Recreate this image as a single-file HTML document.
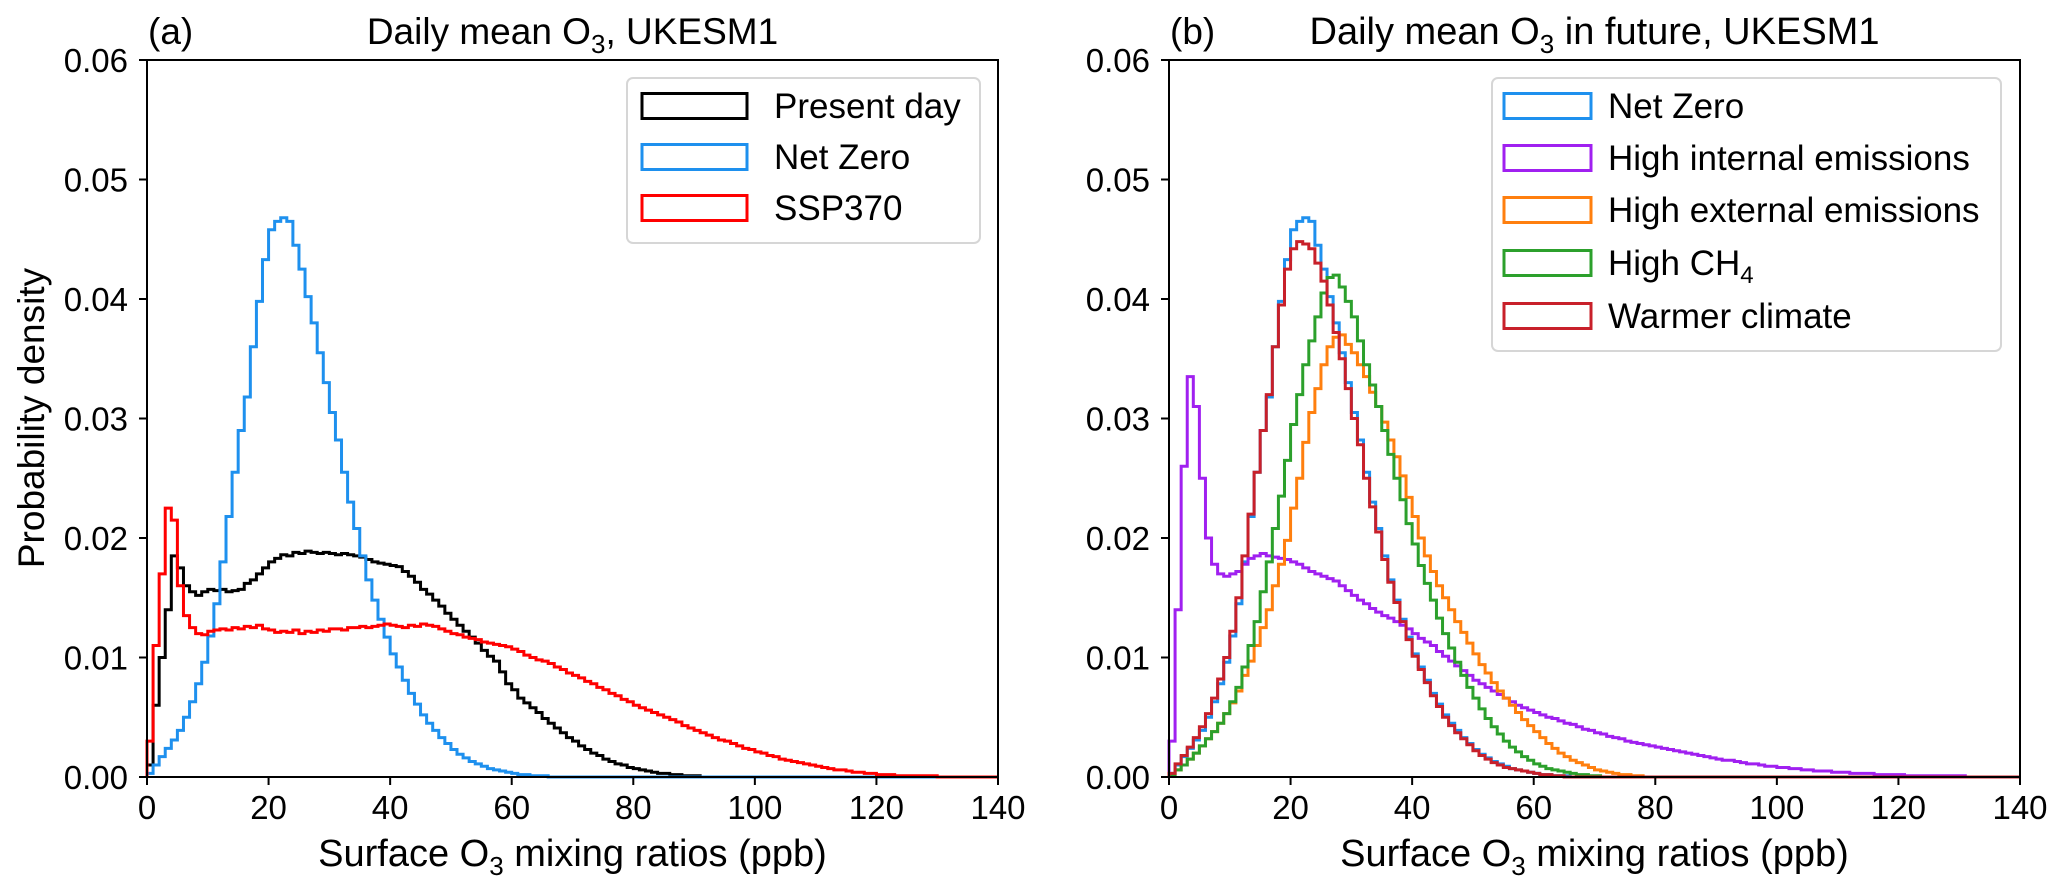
<!DOCTYPE html>
<html><head><meta charset="utf-8">
<style>
html,body{margin:0;padding:0;background:#fff;}
svg{display:block;font-family:"Liberation Sans",Arial,sans-serif;}
</style></head>
<body>
<svg id="fig" width="2067" height="891" viewBox="0 0 2067 891" xmlns="http://www.w3.org/2000/svg">
</svg>
<script>
// ---- data (1 ppb bins starting at 0) ----
const xTicks = [0,20,40,60,80,100,120,140];
const yTicks = [0.00,0.01,0.02,0.03,0.04,0.05,0.06];
const yTickLabels = ["0.00","0.01","0.02","0.03","0.04","0.05","0.06"];
const presentDay = [0.001,0.006,0.01,0.014,0.0185,0.0175,0.016,0.0155,0.0152,0.0155,0.0157,0.0156,0.0157,0.0155,0.0156,0.0157,0.0162,0.0165,0.017,0.0175,0.018,0.0183,0.0186,0.0185,0.0188,0.0187,0.0189,0.0188,0.0187,0.0188,0.0187,0.0186,0.0187,0.0186,0.0185,0.0184,0.0182,0.018,0.0179,0.0178,0.0177,0.0176,0.0172,0.0168,0.0163,0.0157,0.0153,0.0148,0.0143,0.0137,0.0132,0.0127,0.0122,0.0117,0.0112,0.0106,0.0101,0.0097,0.0088,0.0078,0.0073,0.0066,0.0062,0.0058,0.0054,0.0049,0.0045,0.0041,0.0037,0.0033,0.003,0.0026,0.0023,0.002,0.0018,0.0015,0.0013,0.0011,0.001,0.0008,0.0007,0.0006,0.0005,0.0004,0.0003,0.0003,0.0002,0.0002,0.0001,0.0001,0.0001];
const netZero = [0.0003,0.001,0.0017,0.0024,0.0031,0.0039,0.005,0.0063,0.0078,0.0096,0.0118,0.0145,0.018,0.0218,0.0255,0.029,0.0318,0.036,0.0398,0.0433,0.0458,0.0465,0.0468,0.0465,0.0445,0.0425,0.0402,0.038,0.0355,0.033,0.0305,0.0282,0.0255,0.023,0.0208,0.0185,0.0165,0.0148,0.0132,0.0117,0.0103,0.0092,0.0081,0.007,0.0061,0.0052,0.0045,0.0039,0.0033,0.0028,0.0023,0.0019,0.0016,0.0013,0.0011,0.0009,0.0007,0.0006,0.0005,0.0004,0.0003,0.0002,0.0002,0.0001,0.0001,0.0001];
const ssp370 = [0.003,0.011,0.017,0.0225,0.0215,0.016,0.0135,0.0125,0.012,0.0119,0.0122,0.0123,0.0124,0.0123,0.0125,0.0124,0.0126,0.0125,0.0127,0.0124,0.0123,0.0121,0.0122,0.0121,0.0123,0.012,0.0122,0.0121,0.0123,0.0122,0.0124,0.0124,0.0123,0.0125,0.0125,0.0126,0.0125,0.0126,0.0127,0.0128,0.0127,0.0126,0.0125,0.0127,0.0126,0.0128,0.0127,0.0126,0.0124,0.0122,0.012,0.0119,0.0117,0.0116,0.0115,0.0113,0.0112,0.0111,0.011,0.0109,0.0107,0.0105,0.0102,0.01,0.0098,0.0097,0.0095,0.0092,0.009,0.0087,0.0085,0.0083,0.008,0.0078,0.0075,0.0073,0.007,0.0068,0.0065,0.0063,0.006,0.0058,0.0056,0.0054,0.0052,0.005,0.0048,0.0046,0.0043,0.0041,0.0039,0.0037,0.0035,0.0033,0.0031,0.003,0.0028,0.0026,0.0024,0.0023,0.0021,0.002,0.0018,0.0017,0.0015,0.0014,0.0013,0.0012,0.0011,0.001,0.0009,0.0008,0.0007,0.0006,0.0006,0.0005,0.0004,0.0004,0.0003,0.0003,0.0002,0.0002,0.0002,0.0001,0.0001,0.0001,0.0001,0.0001,0.0001,0.0001];
const highInternal = [0.003,0.014,0.026,0.0335,0.031,0.025,0.02,0.0178,0.017,0.0168,0.017,0.0172,0.0178,0.0183,0.0185,0.0187,0.0185,0.0184,0.0183,0.0182,0.018,0.0178,0.0175,0.0172,0.017,0.0168,0.0166,0.0164,0.016,0.0156,0.0152,0.0148,0.0145,0.0141,0.0138,0.0135,0.0133,0.013,0.0127,0.0124,0.012,0.0116,0.0113,0.011,0.0105,0.0101,0.0097,0.0093,0.0089,0.0085,0.0081,0.0078,0.0075,0.0072,0.0069,0.0066,0.0063,0.006,0.0058,0.0056,0.0054,0.0052,0.005,0.0049,0.0047,0.0045,0.0044,0.0042,0.004,0.0039,0.0037,0.0036,0.0034,0.0033,0.0032,0.003,0.0029,0.0028,0.0027,0.0026,0.0025,0.0024,0.0023,0.0022,0.0021,0.002,0.0019,0.0018,0.0017,0.0016,0.0015,0.0014,0.0014,0.0013,0.0012,0.0011,0.0011,0.001,0.0009,0.0009,0.0008,0.0008,0.0007,0.0007,0.0006,0.0006,0.0005,0.0005,0.0005,0.0004,0.0004,0.0004,0.0003,0.0003,0.0003,0.0003,0.0002,0.0002,0.0002,0.0002,0.0002,0.0001,0.0001,0.0001,0.0001,0.0001,0.0001,0.0001,0.0001,0.0001,0.0001];
const highExternal = [0.0002,0.0006,0.001,0.0015,0.002,0.0026,0.0032,0.0038,0.0045,0.0053,0.0062,0.0072,0.0085,0.0097,0.011,0.0125,0.014,0.016,0.0178,0.0198,0.0225,0.025,0.028,0.0305,0.0325,0.0345,0.036,0.0368,0.037,0.0362,0.0355,0.0345,0.0335,0.0322,0.031,0.0297,0.0282,0.0268,0.0252,0.0234,0.0218,0.02,0.0185,0.0172,0.016,0.015,0.014,0.013,0.0121,0.0112,0.0103,0.0094,0.0087,0.0079,0.0072,0.0066,0.006,0.0054,0.0048,0.0043,0.0038,0.0033,0.0028,0.0024,0.002,0.0017,0.0014,0.0012,0.001,0.0008,0.0006,0.0005,0.0004,0.0003,0.0002,0.0002,0.0001,0.0001];
const highCH4 = [0.0002,0.0006,0.001,0.0015,0.002,0.0026,0.0032,0.0038,0.0045,0.0053,0.0063,0.0075,0.0092,0.011,0.013,0.0155,0.018,0.0208,0.0235,0.0265,0.0295,0.032,0.0345,0.0365,0.0385,0.0405,0.0418,0.042,0.041,0.0398,0.0385,0.0365,0.0345,0.0328,0.031,0.029,0.027,0.025,0.0232,0.0212,0.0195,0.0177,0.0162,0.0148,0.0133,0.012,0.0108,0.0096,0.0085,0.0075,0.0066,0.0057,0.0049,0.0042,0.0036,0.003,0.0025,0.0021,0.0017,0.0014,0.0011,0.0009,0.0007,0.0006,0.0005,0.0004,0.0003,0.0002,0.0002,0.0001,0.0001];
const warmerClimate = [0.0003,0.0011,0.0018,0.0025,0.0033,0.0042,0.0053,0.0066,0.0082,0.01,0.0122,0.015,0.0185,0.022,0.0255,0.029,0.032,0.036,0.0395,0.0425,0.0442,0.0448,0.0446,0.0442,0.043,0.0415,0.0395,0.0372,0.035,0.0325,0.03,0.0278,0.025,0.0226,0.0205,0.0182,0.0163,0.0146,0.013,0.0115,0.0101,0.009,0.0079,0.0068,0.0059,0.005,0.0043,0.0037,0.0032,0.0027,0.0022,0.0018,0.0015,0.0012,0.001,0.0008,0.0007,0.0006,0.0005,0.0004,0.0003,0.0002,0.0002,0.0001,0.0001];
const binWidth = 1;

const NS = "http://www.w3.org/2000/svg";
const svg = document.getElementById('fig');
function mk(tag, attrs, parent){ const e=document.createElementNS(NS,tag); for(const k in attrs) e.setAttribute(k,attrs[k]); (parent||svg).appendChild(e); return e; }

const Y0 = 777, Y1 = 60;
function panel(x0, x1, id, letter, titleParts, titleSize, series, legendBox, handleX, handleW, legendTextX){
  const g = mk('g',{});
  
  
  const sx = v => x0 + (v-0)/(140-0)*(x1-x0);
  const sy = v => Y0 - (v-0)/(0.06)*(Y0-Y1);
  series.forEach(s=>{
    let d = 'M'+sx(0)+','+sy(0);
    s.vals.forEach((v,i)=>{ d += ' L'+sx(i*binWidth)+','+sy(v)+' L'+sx((i+1)*binWidth)+','+sy(v); });
    d += ' L'+sx(s.vals.length*binWidth)+','+sy(0)+' L'+sx(140)+','+sy(0);
    const p = mk('path',{d:d,fill:'none',stroke:s.color,'stroke-width':3,'stroke-linejoin':'miter'},g);
    
    
  });
  const fr = mk('rect',{x:x0,y:Y1,width:x1-x0,height:Y0-Y1,fill:'none',stroke:'#000','stroke-width':2},g);
  
  
  yTicks.forEach((t,i)=>{
    mk('line',{x1:x0-8,x2:x0,y1:sy(t),y2:sy(t),stroke:'#000','stroke-width':2},g);
    const tx = mk('text',{x:x0-19,y:sy(t)+12,'text-anchor':'end','font-size':33},g);
    tx.textContent = yTickLabels[i];
    
    
  });
  xTicks.forEach(t=>{
    mk('line',{x1:sx(t),x2:sx(t),y1:Y0,y2:Y0+8,stroke:'#000','stroke-width':2},g);
    const tx = mk('text',{x:sx(t),y:819,'text-anchor':'middle','font-size':33},g);
    tx.textContent = t;
    
    
  });
  const xl = mk('text',{x:(x0+x1)/2,y:866,'text-anchor':'middle','font-size':38},g);
  xl.innerHTML = 'Surface O<tspan font-size="26" dy="9">3</tspan><tspan dy="-9"> mixing ratios (ppb)</tspan>';
  
  
  const lt = mk('text',{x:x0+1,y:44,'font-size':37},g);
  lt.textContent = letter;
  
  
  const tt = mk('text',{x:(x0+x1)/2,y:44,'text-anchor':'middle','font-size':titleSize},g);
  tt.innerHTML = titleParts;
  
  
  const lg = mk('g',{},g);
  
  
  mk('rect',{x:legendBox[0],y:legendBox[1],width:legendBox[2],height:legendBox[3],rx:6,fill:'#fff','fill-opacity':0.8,stroke:'#d6d6d6','stroke-width':2},lg);
  series.forEach((s,i)=>{
    const cy = s.ly;
    const e = mk('g',{},lg);
    
    
    mk('rect',{x:handleX,y:cy-12.5,width:handleW,height:25,fill:'none',stroke:s.color,'stroke-width':3},e);
    const t = mk('text',{x:legendTextX,y:cy+12,'font-size':35},e);
    t.innerHTML = s.label;
  });
}

panel(147, 998, 'a', '(a)', 'Daily mean O<tspan font-size="26" dy="9">3</tspan><tspan dy="-9">, UKESM1</tspan>', 37,
  [
   {key:'present-day',vals:presentDay,color:'#000000',label:'Present day',ly:106},
   {key:'net-zero',vals:netZero,color:'#1e90ee',label:'Net Zero',ly:157},
   {key:'ssp370',vals:ssp370,color:'#ff0000',label:'SSP370',ly:208}
  ], [627,78,353,165], 642, 105, 774);

panel(1169, 2020, 'b', '(b)', 'Daily mean O<tspan font-size="26" dy="9">3</tspan><tspan dy="-9"> in future, UKESM1</tspan>', 38,
  [
   {key:'net-zero',vals:netZero,color:'#1e90ee',label:'Net Zero',ly:106},
   {key:'high-internal',vals:highInternal,color:'#a020f0',label:'High internal emissions',ly:158},
   {key:'high-external',vals:highExternal,color:'#ff7f0e',label:'High external emissions',ly:210},
   {key:'high-ch4',vals:highCH4,color:'#2ca02c',label:'High CH<tspan font-size="24" dy="8">4</tspan>',ly:263},
   {key:'warmer-climate',vals:warmerClimate,color:'#c8202a',label:'Warmer climate',ly:316}
  ], [1492,78,509,273], 1504, 87, 1608);

const yl = mk('text',{x:0,y:0,'text-anchor':'middle','font-size':37,transform:'translate(44,418) rotate(-90)'});
yl.textContent = 'Probability density';


</script>
</body></html>
